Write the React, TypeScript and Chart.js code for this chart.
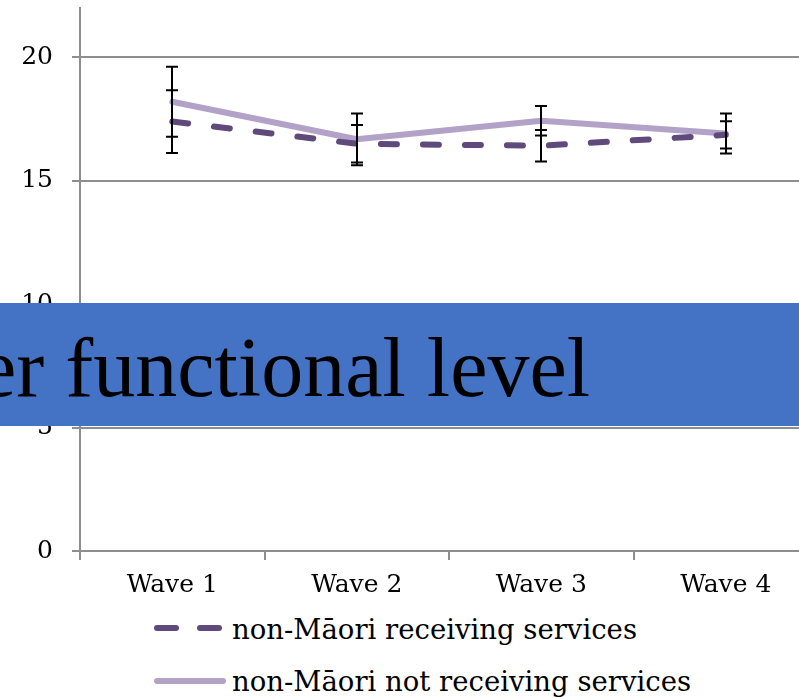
import React, { useEffect, useRef } from "react";
import { Chart, registerables } from "chart.js";

Chart.register(...registerables);

const categories = ["Wave 1", "Wave 2", "Wave 3", "Wave 4"];
const seriesLabels = ["non-Māori receiving services", "non-Māori not receiving services"];
const receivingValues = [17.4, 16.5, 16.42, 16.86];
const receivingErrors = [1.27, 0.76, 0.64, 0.55];
const notReceivingValues = [18.2, 16.68, 17.43, 16.92];
const notReceivingErrors = [1.42, 1.05, 0.6, 0.81];
const yTickValues = [0, 5, 10, 15, 20];
const yMin = 0;
const yMax = 22;
const bannerText = "er functional level";

const DARK = "#604a7b";
const LIGHT = "#b3a2c7";
const GRID = "#8e8e8e";
const TICK_FONT = { family: "'DejaVu Serif', serif", size: 25 };

const errorBarPlugin = {
  id: "errorBars",
  afterDatasetsDraw(chart: any) {
    const { ctx, scales } = chart;
    const x = scales.x;
    const y = scales.y;
    ctx.save();
    ctx.strokeStyle = "#000";
    ctx.lineWidth = 2;
    chart.data.datasets.forEach((ds: any) => {
      const errs: number[] = ds.errors || [];
      ds.data.forEach((v: number, i: number) => {
        const e = errs[i];
        if (e == null) return;
        const px = Math.round(x.getPixelForValue(i));
        const top = y.getPixelForValue(v + e);
        const bot = y.getPixelForValue(v - e);
        ctx.beginPath();
        ctx.moveTo(px, top);
        ctx.lineTo(px, bot);
        ctx.moveTo(px - 6, top);
        ctx.lineTo(px + 6, top);
        ctx.moveTo(px - 6, bot);
        ctx.lineTo(px + 6, bot);
        ctx.stroke();
      });
    });
    ctx.restore();
  },
};

export default function App() {
  const canvasRef = useRef<HTMLCanvasElement | null>(null);

  useEffect(() => {
    if (!canvasRef.current) return;
    const chart = new Chart(canvasRef.current, {
      type: "line",
      data: {
        labels: categories,
        datasets: [
          {
            label: seriesLabels[0],
            data: receivingValues,
            errors: receivingErrors,
            borderColor: DARK,
            backgroundColor: DARK,
            borderWidth: 6,
            borderDash: [16, 26],
            borderCapStyle: "round",
            borderJoinStyle: "round",
            pointRadius: 0,
            tension: 0,
            fill: false,
          } as any,
          {
            label: seriesLabels[1],
            data: notReceivingValues,
            errors: notReceivingErrors,
            borderColor: LIGHT,
            backgroundColor: LIGHT,
            borderWidth: 6,
            borderCapStyle: "round",
            borderJoinStyle: "round",
            pointRadius: 0,
            tension: 0,
            fill: false,
          } as any,
        ],
      },
      options: {
        animation: false,
        responsive: false,
        maintainAspectRatio: false,
        layout: { padding: { top: 8, left: 0, right: 12, bottom: 0 } },
        plugins: {
          legend: { display: false },
          tooltip: { enabled: false },
        },
        scales: {
          x: {
            type: "category",
            offset: true,
            grid: {
              drawOnChartArea: false,
              drawTicks: true,
              tickLength: 9,
              color: GRID,
              lineWidth: 2,
              offset: true,
            },
            border: { display: true, color: GRID, width: 2 },
            ticks: { font: TICK_FONT, color: "#000", padding: 10, maxRotation: 0 },
            afterFit(scale: any) {
              scale.height = 59;
              scale.paddingLeft = 0;
              scale.paddingRight = 0;
            },
          },
          y: {
            min: yMin,
            max: yMax,
            ticks: { stepSize: 5, font: TICK_FONT, color: "#000", padding: 19 },
            afterBuildTicks(scale: any) {
              scale.ticks = yTickValues.map((v) => ({ value: v }));
            },
            afterFit(scale: any) {
              scale.width = 80;
              scale.paddingTop = 0;
              scale.paddingBottom = 0;
            },
            grid: { color: GRID, lineWidth: 2, tickLength: 8, drawTicks: true },
            border: { display: true, color: GRID, width: 2 },
          },
        },
      },
      plugins: [errorBarPlugin],
    } as any);
    return () => chart.destroy();
  }, []);

  const legendText: React.CSSProperties = {
    position: "absolute",
    left: 232,
    fontFamily: "'DejaVu Serif', serif",
    fontSize: 27.5,
    lineHeight: "27.5px",
    color: "#000",
    whiteSpace: "nowrap",
  };

  return (
    <div
      style={{
        position: "fixed",
        left: 0,
        top: 0,
        width: 799,
        height: 698,
        overflow: "hidden",
        background: "#fff",
      }}
    >
      <div style={{ position: "absolute", left: 0, top: 0, width: 830, height: 610 }}>
        <canvas ref={canvasRef} width={830} height={610} style={{ width: 830, height: 610 }} />
      </div>
      <div
        style={{
          position: "absolute",
          left: 0,
          top: 303,
          width: 799,
          height: 123,
          background: "#4472c4",
          overflow: "hidden",
        }}
      >
        <span
          style={{
            position: "absolute",
            left: -21,
            top: 23,
            fontFamily: "'Liberation Serif', 'Times New Roman', serif",
            fontSize: 84,
            lineHeight: "84px",
            color: "#000",
            whiteSpace: "nowrap",
          }}
        >
          {bannerText}
        </span>
      </div>
      <svg style={{ position: "absolute", left: 150, top: 618 }} width={80} height={20}>
        <line x1={7} y1={10} x2={69} y2={10} stroke={DARK} strokeWidth={6} strokeLinecap="round" strokeDasharray="19 24" />
      </svg>
      <div style={{ ...legendText, top: 616 }}>{seriesLabels[0]}</div>
      <svg style={{ position: "absolute", left: 150, top: 671 }} width={80} height={20}>
        <line x1={7} y1={10} x2={73} y2={10} stroke={LIGHT} strokeWidth={6} strokeLinecap="round" />
      </svg>
      <div style={{ ...legendText, top: 668 }}>{seriesLabels[1]}</div>
    </div>
  );
}
